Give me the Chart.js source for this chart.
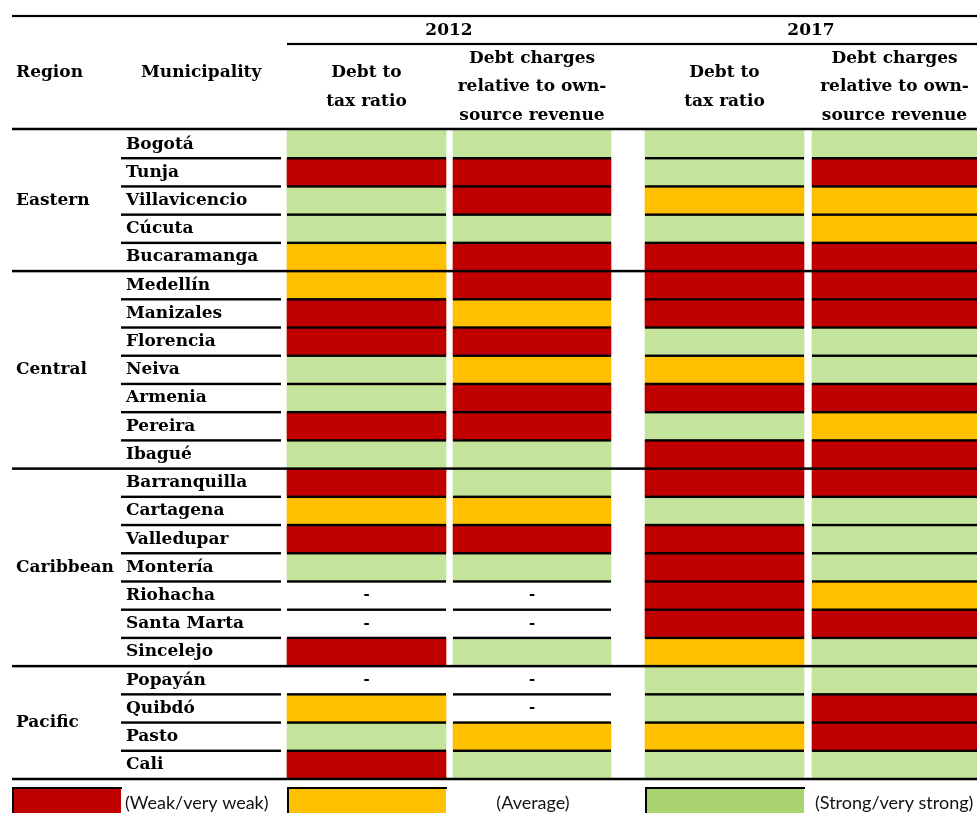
<!DOCTYPE html>
<html>
<head>
<meta charset="utf-8">
<script src="https://cdn.jsdelivr.net/npm/chart.js@4/dist/chart.umd.min.js"></script>
<style>
  html, body { margin: 0; padding: 0; background: #fff; }
</style>
</head>
<body>
<canvas id="table" width="977" height="813"></canvas>
<script>
// ---- data ----
var municipalities = [
    'Bogotá', 'Tunja', 'Villavicencio', 'Cúcuta', 'Bucaramanga',
    'Medellín', 'Manizales', 'Florencia', 'Neiva', 'Armenia', 'Pereira', 'Ibagué',
    'Barranquilla', 'Cartagena', 'Valledupar', 'Montería', 'Riohacha', 'Santa Marta', 'Sincelejo',
    'Popayán', 'Quibdó', 'Pasto', 'Cali'
];
var regions = ['Eastern', 'Central', 'Caribbean', 'Pacific'];
var regionSizes = [5, 7, 7, 4];
var years = ['2012', '2017'];

// W = weak/very weak, A = average, S = strong/very strong, null = no data
var debtTax2012 = ['S','W','S','S','A', 'A','W','W','S','S','W','S', 'W','A','W','S',null,null,'W', null,'A','S','W'];
var charges2012 = ['S','W','W','S','W', 'W','A','W','A','W','W','S', 'S','A','W','S',null,null,'S', null,null,'A','S'];
var debtTax2017 = ['S','S','A','S','W', 'W','W','S','A','W','S','W', 'W','S','W','W','W','W','A', 'S','S','A','S'];
var charges2017 = ['S','W','A','A','W', 'W','W','S','S','W','A','W', 'W','S','S','S','A','W','S', 'S','W','W','S'];

var legendLabels = ['(Weak/very weak)', '(Average)', '(Strong/very strong)'];

// ---- styles / layout ----
var colors = { W: '#C00000', A: '#FFC000', S: '#C4E39B' };
var legendColors = ['#C00000', '#FFC000', '#A9D46F'];
var columns = [[287, 446], [453, 611], [645, 804], [812, 977]];
var muniSpan = [121, 281];
var serif = '"DejaVu Serif", serif';

var series = [debtTax2012, charges2012, debtTax2017, charges2017];

var datasets = series.map(function(values, c) {
    return {
        data: values.map(function(v) { return v ? columns[c] : null; }),
        backgroundColor: values.map(function(v) { return v ? colors[v] : 'rgba(0,0,0,0)'; }),
        borderWidth: 0,
        grouped: false,
        barPercentage: 1,
        categoryPercentage: 1
    };
});

function hline(ctx, x0, x1, y, w) {
    ctx.fillRect(x0, y - w / 2, x1 - x0, w);
}

var tablePlugin = {
    id: 'tableFrame',
    afterDatasetsDraw: function(chart) {
        var ctx = chart.ctx;
        var area = chart.chartArea;
        var y = chart.scales.y;
        var band = (area.bottom - area.top) / municipalities.length;
        ctx.save();
        ctx.fillStyle = '#000';

        // header rules
        hline(ctx, 12, 977, 16, 2.2);
        hline(ctx, 287, 977, 44, 2.2);
        hline(ctx, 12, 977, 129, 2.5);

        ctx.textBaseline = 'middle';
        ctx.font = 'bold 17px ' + serif;
        ctx.textAlign = 'center';
        ctx.fillText(years[0], (columns[0][0] + columns[1][1]) / 2, 31);
        ctx.fillText(years[1], (columns[2][0] + columns[3][1]) / 2, 31);
        ctx.textAlign = 'left';
        ctx.fillText('Region', 16, 73);
        ctx.fillText('Municipality', 141, 73);
        ctx.textAlign = 'center';
        [0, 2].forEach(function(c) {
            var cx = (columns[c][0] + columns[c][1]) / 2;
            ctx.fillText('Debt to', cx, 73);
            ctx.fillText('tax ratio', cx, 102);
        });
        [1, 3].forEach(function(c) {
            var cx = (columns[c][0] + columns[c][1]) / 2;
            ctx.fillText('Debt charges', cx, 59);
            ctx.fillText('relative to own-', cx, 87);
            ctx.fillText('source revenue', cx, 116);
        });

        // row labels, dashes and rules
        var regionEnds = [];
        var acc = 0;
        regionSizes.forEach(function(n, r) {
            var mid = area.top + band * (acc + n / 2);
            ctx.textAlign = 'left';
            ctx.font = 'bold 17px ' + serif;
            ctx.fillText(regions[r], 16, mid);
            acc += n;
            regionEnds.push(acc - 1);
        });

        municipalities.forEach(function(name, i) {
            var cy = y.getPixelForValue(i);
            ctx.textAlign = 'left';
            ctx.font = 'bold 17px ' + serif;
            ctx.fillText(name, 126, cy);
            ctx.textAlign = 'center';
            ctx.font = 'bold 15px ' + serif;
            series.forEach(function(values, c) {
                if (!values[i]) {
                    ctx.fillText('-', (columns[c][0] + columns[c][1]) / 2, cy);
                }
            });
            var yb = cy + band / 2;
            if (regionEnds.indexOf(i) >= 0) {
                hline(ctx, 12, 977, yb, 2.5);
            } else {
                hline(ctx, muniSpan[0], muniSpan[1], yb, 2.4);
                columns.forEach(function(col) { hline(ctx, col[0], col[1], yb, 2.4); });
            }
        });

        // legend
        var boxes = [[12, 121], columns[0], columns[2]];
        var textPos = [[125, 'left'], [533, 'center'], [815, 'left']];
        ctx.font = '18px Lato, sans-serif';
        boxes.forEach(function(b, k) {
            ctx.fillStyle = legendColors[k];
            ctx.fillRect(b[0], 789, b[1] - b[0], 30);
            ctx.fillStyle = '#000';
            ctx.fillRect(b[0], 787, b[1] - b[0] + 1, 2);
            ctx.fillRect(b[0], 787, 2, 30);
            ctx.fillStyle = '#111';
            ctx.textAlign = textPos[k][1];
            ctx.fillText(legendLabels[k], textPos[k][0], 803);
        });
        ctx.restore();
    }
};

new Chart(document.getElementById('table'), {
    type: 'bar',
    data: { labels: municipalities, datasets: datasets },
    options: {
        indexAxis: 'y',
        responsive: false,
        animation: false,
        layout: { padding: { top: 130, bottom: 34, left: 0, right: 0 } },
        scales: {
            x: { type: 'linear', min: 0, max: 977, display: false },
            y: { display: false }
        },
        plugins: {
            legend: { display: false },
            tooltip: { enabled: false }
        }
    },
    plugins: [tablePlugin]
});
</script>
</body>
</html>
